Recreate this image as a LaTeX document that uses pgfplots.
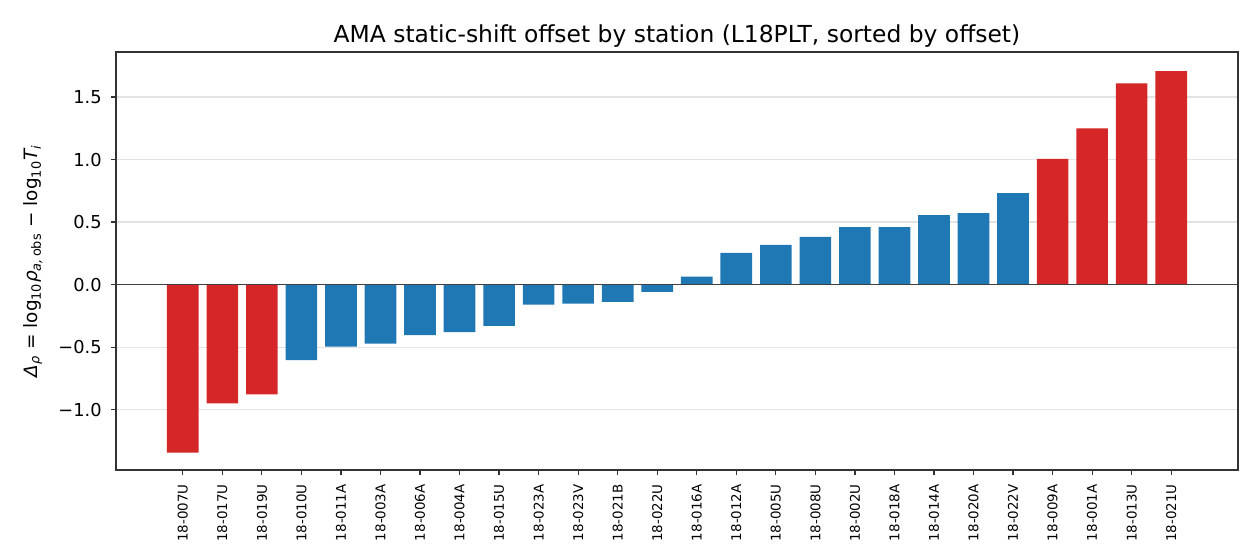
\documentclass[border=0pt]{standalone}
\usepackage{fontspec}
\setmainfont{DejaVu Sans}
\usepackage{pgfplots}
\pgfplotsset{compat=1.18}
\usetikzlibrary{calc}
\definecolor{tabblue}{HTML}{1F77B4}
\definecolor{tabred}{HTML}{D62728}
\definecolor{spine}{HTML}{333333}
\begin{document}
\begin{tikzpicture}
\begin{axis}[
  scale only axis, width=561pt, height=209pt,
  xmin=-1.69, xmax=26.69, ymin=-1.4825, ymax=1.86,
  xtick={0,...,25},
  xticklabels={18-007U,18-017U,18-019U,18-010U,18-011A,18-003A,18-006A,18-004A,18-015U,18-023A,18-023V,18-021B,18-022U,18-016A,18-012A,18-005U,18-008U,18-002U,18-018A,18-014A,18-020A,18-022V,18-009A,18-001A,18-013U,18-021U},
  xticklabel style={rotate=90, anchor=east, font=\fontsize{6.7}{7}\selectfont, inner sep=0pt, xshift=-4.5pt},
  ytick={-1,-0.5,0,0.5,1,1.5},
  yticklabels={−1.0,−0.5,0.0,0.5,1.0,1.5},
  yticklabel style={font=\fontsize{8.9}{10}\selectfont, inner sep=0pt, xshift=-4.5pt},
  tick pos=left, tick align=outside,
  major tick length=2.5pt,
  every tick/.style={color=spine, line width=0.6pt},
  axis line style={color=spine, line width=0.8pt},
  ymajorgrids, major grid style={color=black!11, line width=0.6pt},
  title={AMA static-shift offset by station (L18PLT, sorted by offset)},
  title style={font=\fontsize{11.7}{13}\selectfont, at={(0.5,1)}, anchor=south, inner sep=0pt, yshift=-4pt},
  ylabel={{\itshape Δ}\textsubscript{\itshape ρ} = log\textsubscript{10}{\itshape ρ}\textsubscript{\itshape a,\,\upshape obs} − log\textsubscript{10}{\itshape T}\textsubscript{\itshape i}},
  ylabel style={font=\fontsize{9.2}{10}\selectfont, at={(axis description cs:-0.074,0.5)}, anchor=center},
  clip=false,
]
\addplot[ybar, bar width=0.8, bar shift=0pt, draw=none, fill=tabred] coordinates {
  (0,-1.343) (1,-0.949) (2,-0.877) (22,1.005) (23,1.25) (24,1.61) (25,1.706)};
\addplot[ybar, bar width=0.8, bar shift=0pt, draw=none, fill=tabblue] coordinates {
  (3,-0.604) (4,-0.497) (5,-0.473) (6,-0.404) (7,-0.38) (8,-0.331) (9,-0.16) (10,-0.152) (11,-0.139) (12,-0.059)
  (13,0.064) (14,0.253) (15,0.317) (16,0.381) (17,0.46) (18,0.46) (19,0.556) (20,0.572) (21,0.732)};
\addplot[color=black!75, line width=0.8pt] coordinates {(-1.69,0) (26.69,0)};
\coordinate (bl) at (rel axis cs:0,0);
\coordinate (tr) at (rel axis cs:1,1);
\end{axis}
\pgfresetboundingbox
\path[use as bounding box] ($(bl)+(-58pt,-45pt)$) rectangle ($(tr)+(11pt,26pt)$);
\end{tikzpicture}
\end{document}
